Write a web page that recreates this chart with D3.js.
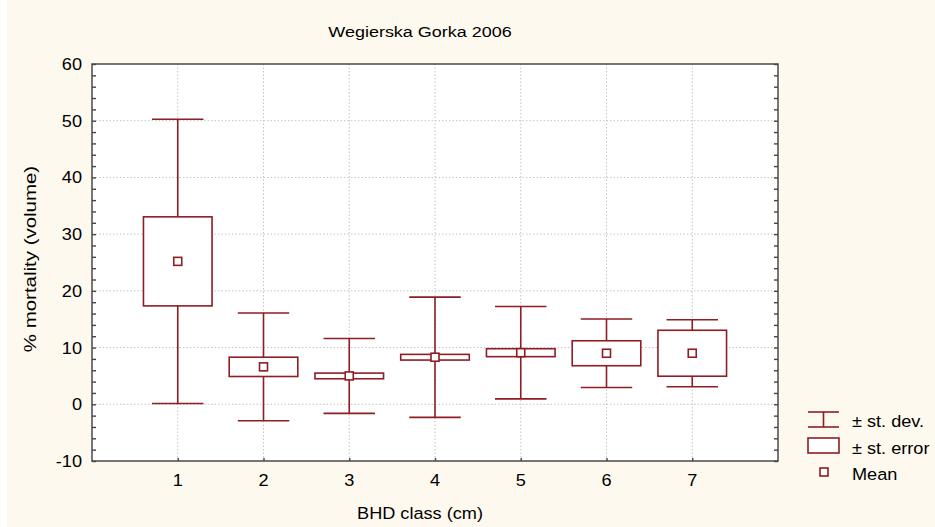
<!DOCTYPE html>
<meta charset="utf-8">
<style>
  body { margin: 0; background: #fff; }
  text { font-family: "Liberation Sans", Arial, sans-serif; fill: #000; }
  .grid line { stroke: #c4c4c4; stroke-width: 1; stroke-dasharray: 1.5,2; }
  .mark { stroke: #8e1d24; stroke-width: 1.6; fill: none; }
  .box { stroke: #8e1d24; stroke-width: 1.6; fill: #fff; }
</style>
<svg width="935" height="527"></svg>
<script src="https://d3js.org/d3.v7.min.js"></script>
<script>

  // BHD classes and their statistics (% mortality, volume)
  var classes = ["1", "2", "3", "4", "5", "6", "7"];
  var means   = [25.2, 6.6, 5.0, 8.3, 9.1, 9.0, 9.0];
  var stdErr  = [7.85, 1.7, 0.5, 0.5, 0.7, 2.2, 4.05];
  var stdDev  = [25.05, 9.5, 6.6, 10.6, 8.15, 6.05, 5.9];
  var yTicks  = [-10, 0, 10, 20, 30, 40, 50, 60];
  var legendLabels = ["\u00b1 st. dev.", "\u00b1 st. error", "Mean"];

  var svg = d3.select("svg"),
      pLeft = 92, pRight = 778, pTop = 64, pBottom = 461;

  // cream page background with a white strip on the left
  svg.append("rect").attr("x", 7).attr("y", 0).attr("width", 928).attr("height", 527).attr("fill", "#fef9ee");
  svg.append("rect").attr("x", pLeft).attr("y", pTop).attr("width", pRight - pLeft).attr("height", pBottom - pTop).attr("fill", "#fff");

  var x = d3.scaleLinear().domain([0, classes.length + 1]).range([pLeft, pRight]);
  var y = d3.scaleLinear().domain([-10, 60]).range([pBottom, pTop]);
  var step = x(1) - x(0);

  var data = classes.map(function(c, i) {
    return {cls: c, pos: i + 1, mean: means[i], se: stdErr[i], sd: stdDev[i]};
  });

  // text helper: fonts here are a little narrower than the original, so stretch
  function label(g, px, py, txt, size, sx, anchor, rot) {
    return g.append("text")
      .attr("transform", "translate(" + px + "," + py + ")" + (rot ? " rotate(" + rot + ")" : "") + " scale(" + sx + ",1)")
      .attr("text-anchor", anchor || "start")
      .style("font-size", size + "px")
      .text(txt);
  }

  // grid
  var grid = svg.append("g").attr("class", "grid");
  grid.selectAll(".h").data(yTicks.filter(function(d) { return d > -10 && d < 60; }))
    .enter().append("line")
    .attr("x1", pLeft).attr("x2", pRight)
    .attr("y1", function(d) { return y(d); }).attr("y2", function(d) { return y(d); });
  grid.selectAll(".v").data(data)
    .enter().append("line")
    .attr("y1", pTop).attr("y2", pBottom)
    .attr("x1", function(d) { return x(d.pos); }).attr("x2", function(d) { return x(d.pos); });

  // frame and axes (ticks drawn inward)
  var axL = d3.axisRight(y).tickValues(d3.range(-10, 61, 2)).tickSize(4).tickFormat("");
  var axR = d3.axisLeft(y).tickValues(d3.range(-10, 61, 2)).tickSize(4).tickFormat("");
  var axB = d3.axisTop(x).tickValues(data.map(function(d) { return d.pos; })).tickSize(3).tickFormat("");
  [ [axL, "translate(" + pLeft + ",0)"], [axR, "translate(" + pRight + ",0)"], [axB, "translate(0," + pBottom + ")"] ]
    .forEach(function(a) {
      var g = svg.append("g").attr("transform", a[1]).call(a[0]);
      g.select(".domain").remove();
      g.selectAll(".tick line").attr("stroke", "#444").attr("stroke-width", 1.4);
    });
  svg.append("rect").attr("x", pLeft).attr("y", pTop).attr("width", pRight - pLeft).attr("height", pBottom - pTop)
    .attr("fill", "none").attr("stroke", "#4a4a4a").attr("stroke-width", 1.5);

  // tick labels
  yTicks.forEach(function(t) { label(svg, 82, y(t) + 6, t, 16.5, 1.1, "end"); });
  data.forEach(function(d) { label(svg, x(d.pos), 486, d.cls, 16.5, 1.1, "middle"); });

  // whiskers (± st. dev.)
  var marks = svg.append("g");
  var cap = step * 0.6, bw = step * 0.8, ms = 8;
  data.forEach(function(d) {
    var cx = x(d.pos);
    marks.append("line").attr("class", "mark").attr("x1", cx).attr("x2", cx)
      .attr("y1", y(d.mean + d.sd)).attr("y2", y(d.mean - d.sd));
    [d.mean + d.sd, d.mean - d.sd].forEach(function(v) {
      marks.append("line").attr("class", "mark").attr("x1", cx - cap / 2).attr("x2", cx + cap / 2)
        .attr("y1", y(v)).attr("y2", y(v));
    });
    // box (± st. error)
    marks.append("rect").attr("class", "box")
      .attr("x", cx - bw / 2).attr("width", bw)
      .attr("y", y(d.mean + d.se)).attr("height", y(d.mean - d.se) - y(d.mean + d.se));
    // mean
    marks.append("rect").attr("class", "box")
      .attr("x", cx - ms / 2).attr("y", y(d.mean) - ms / 2).attr("width", ms).attr("height", ms);
  });

  // titles
  label(svg, 420, 37, "Wegierska Gorka 2006", 15.5, 1.16, "middle");
  label(svg, 420, 519, "BHD class (cm)", 16.5, 1.1, "middle");
  label(svg, 36, 259, "% mortality (volume)", 16.5, 1.24, "middle", -90);

  // legend
  var lg = svg.append("g");
  lg.append("line").attr("class", "mark").attr("x1", 808).attr("x2", 839).attr("y1", 412).attr("y2", 412);
  lg.append("line").attr("class", "mark").attr("x1", 808).attr("x2", 839).attr("y1", 427).attr("y2", 427);
  lg.append("line").attr("class", "mark").attr("x1", 823.5).attr("x2", 823.5).attr("y1", 412).attr("y2", 427);
  lg.append("rect").attr("class", "box").attr("x", 808).attr("y", 438).attr("width", 31).attr("height", 15);
  lg.append("rect").attr("class", "box").attr("x", 820).attr("y", 468).attr("width", ms).attr("height", ms);
  legendLabels.forEach(function(t, i) { label(lg, 852, 427 + i * 26.5, t, 16.5, 1.1, "start"); });

</script>
